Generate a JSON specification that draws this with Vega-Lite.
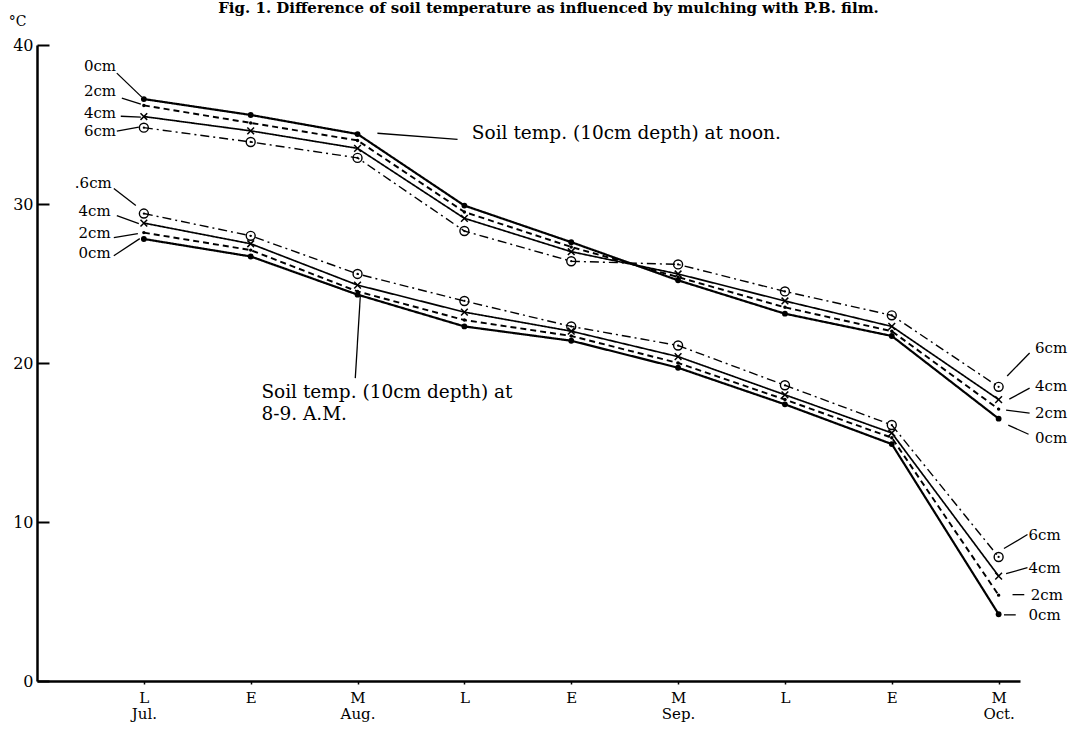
{
  "$schema": "https://vega.github.io/schema/vega-lite/v6.json",
  "width": 983,
  "height": 636,
  "autosize": "none",
  "padding": {"left": 37, "top": 45, "right": 55, "bottom": 67},
  "background": "white",
  "title": {
    "text": "Fig. 1. Difference of soil temperature as influenced by mulching with P.B. film.",
    "anchor": "middle",
    "baseline": "bottom",
    "offset": -17,
    "dx": 20,
    "fontSize": 15,
    "fontWeight": "bold",
    "font": "DejaVu Serif",
    "color": "black"
  },
  "datasets": {
    "temps": [
      {"series": "noon", "depth": "0cm", "step": 1, "temp": 36.6},
      {"series": "noon", "depth": "2cm", "step": 1, "temp": 36.2},
      {"series": "noon", "depth": "4cm", "step": 1, "temp": 35.5},
      {"series": "noon", "depth": "6cm", "step": 1, "temp": 34.8},
      {"series": "noon", "depth": "0cm", "step": 2, "temp": 35.6},
      {"series": "noon", "depth": "2cm", "step": 2, "temp": 35.1},
      {"series": "noon", "depth": "4cm", "step": 2, "temp": 34.6},
      {"series": "noon", "depth": "6cm", "step": 2, "temp": 33.9},
      {"series": "noon", "depth": "0cm", "step": 3, "temp": 34.4},
      {"series": "noon", "depth": "2cm", "step": 3, "temp": 34.0},
      {"series": "noon", "depth": "4cm", "step": 3, "temp": 33.5},
      {"series": "noon", "depth": "6cm", "step": 3, "temp": 32.9},
      {"series": "noon", "depth": "0cm", "step": 4, "temp": 29.9},
      {"series": "noon", "depth": "2cm", "step": 4, "temp": 29.5},
      {"series": "noon", "depth": "4cm", "step": 4, "temp": 29.1},
      {"series": "noon", "depth": "6cm", "step": 4, "temp": 28.3},
      {"series": "noon", "depth": "0cm", "step": 5, "temp": 27.6},
      {"series": "noon", "depth": "2cm", "step": 5, "temp": 27.3},
      {"series": "noon", "depth": "4cm", "step": 5, "temp": 27.0},
      {"series": "noon", "depth": "6cm", "step": 5, "temp": 26.4},
      {"series": "noon", "depth": "0cm", "step": 6, "temp": 25.2},
      {"series": "noon", "depth": "2cm", "step": 6, "temp": 25.4},
      {"series": "noon", "depth": "4cm", "step": 6, "temp": 25.6},
      {"series": "noon", "depth": "6cm", "step": 6, "temp": 26.2},
      {"series": "noon", "depth": "0cm", "step": 7, "temp": 23.1},
      {"series": "noon", "depth": "2cm", "step": 7, "temp": 23.5},
      {"series": "noon", "depth": "4cm", "step": 7, "temp": 23.9},
      {"series": "noon", "depth": "6cm", "step": 7, "temp": 24.5},
      {"series": "noon", "depth": "0cm", "step": 8, "temp": 21.7},
      {"series": "noon", "depth": "2cm", "step": 8, "temp": 22.0},
      {"series": "noon", "depth": "4cm", "step": 8, "temp": 22.3},
      {"series": "noon", "depth": "6cm", "step": 8, "temp": 23.0},
      {"series": "noon", "depth": "0cm", "step": 9, "temp": 16.5},
      {"series": "noon", "depth": "2cm", "step": 9, "temp": 17.1},
      {"series": "noon", "depth": "4cm", "step": 9, "temp": 17.7},
      {"series": "noon", "depth": "6cm", "step": 9, "temp": 18.5},
      {"series": "morning", "depth": "0cm", "step": 1, "temp": 27.8},
      {"series": "morning", "depth": "2cm", "step": 1, "temp": 28.2},
      {"series": "morning", "depth": "4cm", "step": 1, "temp": 28.8},
      {"series": "morning", "depth": "6cm", "step": 1, "temp": 29.4},
      {"series": "morning", "depth": "0cm", "step": 2, "temp": 26.7},
      {"series": "morning", "depth": "2cm", "step": 2, "temp": 27.1},
      {"series": "morning", "depth": "4cm", "step": 2, "temp": 27.5},
      {"series": "morning", "depth": "6cm", "step": 2, "temp": 28.0},
      {"series": "morning", "depth": "0cm", "step": 3, "temp": 24.3},
      {"series": "morning", "depth": "2cm", "step": 3, "temp": 24.5},
      {"series": "morning", "depth": "4cm", "step": 3, "temp": 24.9},
      {"series": "morning", "depth": "6cm", "step": 3, "temp": 25.6},
      {"series": "morning", "depth": "0cm", "step": 4, "temp": 22.3},
      {"series": "morning", "depth": "2cm", "step": 4, "temp": 22.7},
      {"series": "morning", "depth": "4cm", "step": 4, "temp": 23.2},
      {"series": "morning", "depth": "6cm", "step": 4, "temp": 23.9},
      {"series": "morning", "depth": "0cm", "step": 5, "temp": 21.4},
      {"series": "morning", "depth": "2cm", "step": 5, "temp": 21.7},
      {"series": "morning", "depth": "4cm", "step": 5, "temp": 22.0},
      {"series": "morning", "depth": "6cm", "step": 5, "temp": 22.3},
      {"series": "morning", "depth": "0cm", "step": 6, "temp": 19.7},
      {"series": "morning", "depth": "2cm", "step": 6, "temp": 20.0},
      {"series": "morning", "depth": "4cm", "step": 6, "temp": 20.4},
      {"series": "morning", "depth": "6cm", "step": 6, "temp": 21.1},
      {"series": "morning", "depth": "0cm", "step": 7, "temp": 17.4},
      {"series": "morning", "depth": "2cm", "step": 7, "temp": 17.7},
      {"series": "morning", "depth": "4cm", "step": 7, "temp": 18.0},
      {"series": "morning", "depth": "6cm", "step": 7, "temp": 18.6},
      {"series": "morning", "depth": "0cm", "step": 8, "temp": 14.9},
      {"series": "morning", "depth": "2cm", "step": 8, "temp": 15.3},
      {"series": "morning", "depth": "4cm", "step": 8, "temp": 15.6},
      {"series": "morning", "depth": "6cm", "step": 8, "temp": 16.1},
      {"series": "morning", "depth": "0cm", "step": 9, "temp": 4.2},
      {"series": "morning", "depth": "2cm", "step": 9, "temp": 5.4},
      {"series": "morning", "depth": "4cm", "step": 9, "temp": 6.6},
      {"series": "morning", "depth": "6cm", "step": 9, "temp": 7.8}
    ],
    "notes": [
      {"label": "0cm", "kind": "depth", "side": "right", "x": 0.74, "y": 38.68},
      {"label": "2cm", "kind": "depth", "side": "right", "x": 0.74, "y": 37.11},
      {"label": "4cm", "kind": "depth", "side": "right", "x": 0.74, "y": 35.72},
      {"label": "6cm", "kind": "depth", "side": "right", "x": 0.74, "y": 34.6},
      {"label": ".6cm", "kind": "depth", "side": "right", "x": 0.70, "y": 31.29},
      {"label": "4cm", "kind": "depth", "side": "right", "x": 0.69, "y": 29.53},
      {"label": "2cm", "kind": "depth", "side": "right", "x": 0.69, "y": 28.20},
      {"label": "0cm", "kind": "depth", "side": "right", "x": 0.69, "y": 26.94},
      {"label": "6cm", "kind": "depth", "side": "left", "x": 9.34, "y": 20.95},
      {"label": "4cm", "kind": "depth", "side": "left", "x": 9.34, "y": 18.55},
      {"label": "2cm", "kind": "depth", "side": "left", "x": 9.34, "y": 16.85},
      {"label": "0cm", "kind": "depth", "side": "left", "x": 9.34, "y": 15.27},
      {"label": "6cm", "kind": "depth", "side": "left", "x": 9.28, "y": 9.21},
      {"label": "4cm", "kind": "depth", "side": "left", "x": 9.28, "y": 7.13},
      {"label": "2cm", "kind": "depth", "side": "left", "x": 9.30, "y": 5.43},
      {"label": "0cm", "kind": "depth", "side": "left", "x": 9.28, "y": 4.16},
      {"label": "Soil  temp. (10cm depth) at noon.", "kind": "note", "side": "left", "x": 4.07, "y": 34.45},
      {"label": "Soil temp. (10cm depth) at", "kind": "note", "side": "left", "x": 2.10, "y": 18.17},
      {"label": "8-9. A.M.", "kind": "note", "side": "left", "x": 2.10, "y": 16.78}
    ],
    "leaders": [
      {"x": 0.747, "x2": 0.981, "y": 38.23, "y2": 36.72},
      {"x": 0.794, "x2": 0.972, "y": 36.66, "y2": 36.28},
      {"x": 0.784, "x2": 0.972, "y": 35.52, "y2": 35.46},
      {"x": 0.747, "x2": 0.953, "y": 34.59, "y2": 34.84},
      {"x": 0.719, "x2": 0.925, "y": 30.98, "y2": 29.91},
      {"x": 0.747, "x2": 0.953, "y": 29.27, "y2": 28.77},
      {"x": 0.719, "x2": 0.944, "y": 27.89, "y2": 28.14},
      {"x": 0.719, "x2": 0.962, "y": 26.75, "y2": 27.82},
      {"x": 9.29, "x2": 9.08, "y": 20.63, "y2": 19.18},
      {"x": 9.29, "x2": 9.10, "y": 18.42, "y2": 17.73},
      {"x": 9.29, "x2": 9.07, "y": 16.85, "y2": 17.04},
      {"x": 9.28, "x2": 9.09, "y": 15.52, "y2": 16.09},
      {"x": 9.27, "x2": 9.05, "y": 9.21, "y2": 8.33},
      {"x": 9.27, "x2": 9.07, "y": 7.13, "y2": 6.75},
      {"x": 9.13, "x2": 9.24, "y": 5.43, "y2": 5.43},
      {"x": 9.05, "x2": 9.16, "y": 4.16, "y2": 4.16},
      {"x": 3.186, "x2": 3.936, "y": 34.45, "y2": 34.07},
      {"x": 3.026, "x2": 2.979, "y": 24.23, "y2": 19.05}
    ]
  },
  "layer": [
    {
      "data": {"name": "temps"},
      "mark": {"type": "line", "color": "black"},
      "encoding": {
        "x": {
          "field": "step",
          "type": "quantitative",
          "scale": {"domain": [0, 9.2], "nice": false, "zero": false},
          "axis": {
            "title": null,
            "values": [1, 2, 3, 4, 5, 6, 7, 8, 9],
            "labelExpr": "[['L','Jul.'],['E',''],['M','Aug.'],['L',''],['E',''],['M','Sep.'],['L',''],['E',''],['M','Oct.']][datum.value-1]",
            "grid": false,
            "domainColor": "black",
            "domainWidth": 2.5,
            "tickColor": "black",
            "tickSize": 3,
            "tickWidth": 1.5,
            "labelFont": "DejaVu Serif",
            "labelFontSize": 15,
            "labelColor": "black",
            "labelPadding": 6,
            "labelLineHeight": 16
          }
        },
        "y": {
          "field": "temp",
          "type": "quantitative",
          "scale": {"domain": [0, 40], "nice": false},
          "axis": {
            "title": "°C",
            "titleAngle": 0,
            "titleX": -20,
            "titleY": -24,
            "titleAlign": "center",
            "titleBaseline": "middle",
            "titleFont": "DejaVu Serif",
            "titleFontSize": 14,
            "titleFontWeight": "normal",
            "titleColor": "black",
            "values": [0, 10, 20, 30, 40],
            "grid": false,
            "domainColor": "black",
            "domainWidth": 2.5,
            "tickColor": "black",
            "tickSize": -12,
            "tickWidth": 2,
            "labelFont": "DejaVu Serif",
            "labelFontSize": 16,
            "labelColor": "black",
            "labelPadding": 16
          }
        },
        "detail": {"field": "series"},
        "strokeDash": {
          "field": "depth",
          "type": "nominal",
          "scale": {"domain": ["0cm", "2cm", "4cm", "6cm"], "range": [[1, 0], [6, 4], [1, 0], [9, 4, 2, 4]]},
          "legend": null
        },
        "strokeWidth": {
          "field": "depth",
          "type": "ordinal",
          "scale": {"domain": ["0cm", "2cm", "4cm", "6cm"], "range": [2.2, 1.4, 1.6, 1.2]},
          "legend": null
        }
      }
    },
    {
      "data": {"name": "temps"},
      "transform": [{"filter": "datum.depth == '0cm' || datum.depth == '2cm'"}],
      "mark": {"type": "point", "filled": true, "color": "black", "opacity": 1},
      "encoding": {
        "x": {"field": "step", "type": "quantitative"},
        "y": {"field": "temp", "type": "quantitative"},
        "size": {
          "field": "depth",
          "type": "ordinal",
          "scale": {"domain": ["0cm", "2cm"], "range": [34, 12]},
          "legend": null
        }
      }
    },
    {
      "data": {"name": "temps"},
      "transform": [{"filter": "datum.depth == '4cm'"}],
      "mark": {"type": "point", "shape": "M-1,-1L1,1M-1,1L1,-1", "filled": false, "color": "black", "strokeWidth": 1.5, "size": 45, "opacity": 1},
      "encoding": {
        "x": {"field": "step", "type": "quantitative"},
        "y": {"field": "temp", "type": "quantitative"}
      }
    },
    {
      "data": {"name": "temps"},
      "transform": [{"filter": "datum.depth == '6cm'"}],
      "mark": {"type": "point", "shape": "circle", "filled": false, "color": "black", "strokeWidth": 1.4, "size": 80, "opacity": 1},
      "encoding": {
        "x": {"field": "step", "type": "quantitative"},
        "y": {"field": "temp", "type": "quantitative"}
      }
    },
    {
      "data": {"name": "temps"},
      "transform": [{"filter": "datum.depth == '6cm'"}],
      "mark": {"type": "point", "shape": "circle", "filled": true, "color": "black", "size": 5, "opacity": 1},
      "encoding": {
        "x": {"field": "step", "type": "quantitative"},
        "y": {"field": "temp", "type": "quantitative"}
      }
    },
    {
      "data": {"name": "leaders"},
      "mark": {"type": "rule", "color": "black", "strokeWidth": 1.3},
      "encoding": {
        "x": {"field": "x", "type": "quantitative"},
        "x2": {"field": "x2"},
        "y": {"field": "y", "type": "quantitative"},
        "y2": {"field": "y2"}
      }
    },
    {
      "data": {"name": "notes"},
      "transform": [{"filter": "datum.side == 'right'"}],
      "mark": {"type": "text", "align": "right", "baseline": "middle", "font": "DejaVu Serif", "fontSize": 15, "color": "black"},
      "encoding": {
        "x": {"field": "x", "type": "quantitative"},
        "y": {"field": "y", "type": "quantitative"},
        "text": {"field": "label"}
      }
    },
    {
      "data": {"name": "notes"},
      "transform": [{"filter": "datum.side == 'left' && datum.kind == 'depth'"}],
      "mark": {"type": "text", "align": "left", "baseline": "middle", "font": "DejaVu Serif", "fontSize": 15, "color": "black"},
      "encoding": {
        "x": {"field": "x", "type": "quantitative"},
        "y": {"field": "y", "type": "quantitative"},
        "text": {"field": "label"}
      }
    },
    {
      "data": {"name": "notes"},
      "transform": [{"filter": "datum.kind == 'note'"}],
      "mark": {"type": "text", "align": "left", "baseline": "middle", "font": "DejaVu Serif", "fontSize": 18.5, "color": "black"},
      "encoding": {
        "x": {"field": "x", "type": "quantitative"},
        "y": {"field": "y", "type": "quantitative"},
        "text": {"field": "label"}
      }
    }
  ],
  "config": {
    "view": {"stroke": null},
    "font": "DejaVu Serif"
  }
}
